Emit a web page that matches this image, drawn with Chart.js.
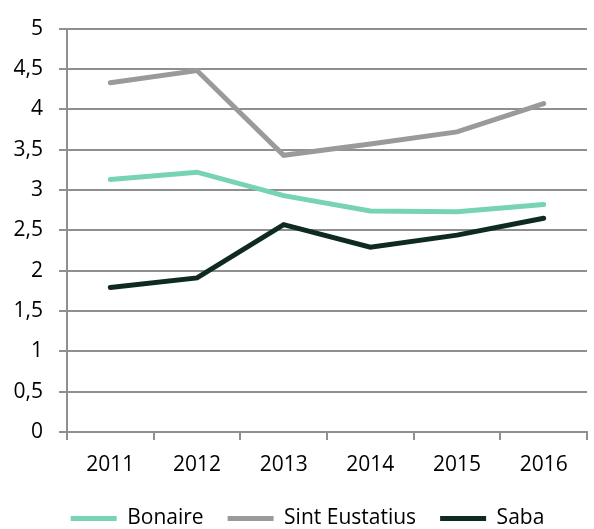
<!DOCTYPE html>
<html>
<head>
<meta charset="utf-8">
<script src="https://cdn.jsdelivr.net/npm/chart.js@4"></script>
<style>
  html, body { margin: 0; padding: 0; background: #fff; }
  #wrap { width: 594px; height: 529px; }
</style>
</head>
<body>
<div id="wrap"><canvas id="myChart" width="594" height="529"></canvas></div>
<script>
'use strict';
let years = ['2011', '2012', '2013', '2014', '2015', '2016'];
let bonaire = [3.13, 3.22, 2.93, 2.74, 2.73, 2.82];
let sintEustatius = [4.33, 4.48, 3.43, 3.57, 3.72, 4.07];
let saba = [1.79, 1.91, 2.57, 2.29, 2.44, 2.65];
let yTicks = [0, 0.5, 1, 1.5, 2, 2.5, 3, 3.5, 4, 4.5, 5];

let gridColor = '#8f8f8f';
let fontFamily = "'Open Sans', 'Noto Sans', sans-serif";

function makeSet(label, data, color) {
    return {
        label: label,
        data: data,
        borderColor: color,
        backgroundColor: color,
        borderWidth: 5,
        pointRadius: 0,
        pointHoverRadius: 0,
        tension: 0,
        borderCapStyle: 'round',
        borderJoinStyle: 'miter'
    };
}

// nudge the legend a bit right/down, like the original
let legendShift = {
    id: 'legendShift',
    afterLayout: function (chart) {
        let lg = chart.legend;
        lg.left += 14;
        lg.right += 14;
        lg.top += 2;
        lg.bottom += 2;
    }
};

let ctx = document.getElementById('myChart').getContext('2d');
let myChart = new Chart(ctx, {
    type: 'line',
    data: {
        labels: years,
        datasets: [
            makeSet('Bonaire', bonaire, '#76d3b6'),
            makeSet('Sint Eustatius', sintEustatius, '#9a9a9a'),
            makeSet('Saba', saba, '#0f2a21')
        ]
    },
    plugins: [legendShift],
    options: {
        responsive: false,
        animation: false,
        layout: { padding: { top: 19, right: 7, left: 0, bottom: -8 } },
        plugins: {
            tooltip: { enabled: false },
            legend: {
                position: 'bottom',
                labels: {
                    boxWidth: 46,
                    boxHeight: 5,
                    padding: 24,
                    color: '#000',
                    font: { family: fontFamily, size: 21 },
                    generateLabels: function (chart) {
                        let items = Chart.defaults.plugins.legend.labels.generateLabels(chart);
                        items.forEach(function (it) { it.lineWidth = 0; });
                        return items;
                    }
                }
            }
        },
        scales: {
            x: {
                offset: true,
                afterFit: function (scale) { scale.height = 50; },
                grid: {
                    offset: true,
                    drawOnChartArea: false,
                    drawTicks: true,
                    tickLength: 8,
                    color: gridColor,
                    lineWidth: 2
                },
                border: { color: gridColor, width: 2 },
                ticks: {
                    padding: 12,
                    color: '#000',
                    font: { family: fontFamily, size: 21 }
                }
            },
            y: {
                min: 0,
                max: 5,
                afterBuildTicks: function (scale) {
                    scale.ticks = yTicks.map(function (v) { return { value: v }; });
                },
                afterFit: function (scale) { scale.width = 67; },
                grid: {
                    color: gridColor,
                    lineWidth: 2,
                    tickLength: 8
                },
                border: { color: gridColor, width: 2 },
                ticks: {
                    padding: 16,
                    color: '#000',
                    font: { family: fontFamily, size: 21 },
                    callback: function (v) { return String(v).replace('.', ','); }
                }
            }
        }
    }
});
</script>
</body>
</html>
